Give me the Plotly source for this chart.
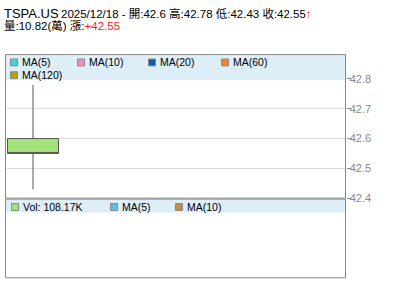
import plotly.graph_objects as go

W, H = 400, 301
symbol = "TSPA.US"
date = "2025/12/18"
opens = [42.6]
highs = [42.78]
lows = [42.43]
closes = [42.55]
volume_k = [108.17]
volume_wan = [10.82]
change = [42.55]
price_ticks = [42.4, 42.5, 42.6, 42.7, 42.8]
ma_labels = ["MA(5)", "MA(10)", "MA(20)", "MA(60)", "MA(120)"]
ma_colors = ["#44d4d0", "#f48cbc", "#0a5eb0", "#f28424", "#b4a404"]
vol_labels = ["Vol: %.2fK" % volume_k[0], "MA(5)", "MA(10)"]
vol_colors = ["#a4e47c", "#5cc0ec", "#c48c48"]

def px(x):
    return x / W

def py(y):
    return 1 - y / H

FONT = "Liberation Sans, Arial, Noto Sans CJK TC, sans-serif"

fig = go.Figure()
fig.add_trace(go.Candlestick(
    x=[0], open=opens, high=highs, low=lows, close=closes,
    increasing=dict(fillcolor="#f87878", line=dict(color="#555555", width=1)),
    decreasing=dict(fillcolor="#a4e47c", line=dict(color="#555555", width=1)),
    whiskerwidth=0, showlegend=False, hoverinfo="skip",
))

top, bot = 55.5, 202.5
ppu = 303.0
base_px = 201.5
ymax = 42.4 + (base_px - top) / ppu
ymin = 42.4 - (bot - base_px) / ppu

fig.update_layout(
    width=W, height=H, margin=dict(l=0, r=0, t=0, b=0),
    paper_bgcolor="white", plot_bgcolor="white",
    boxgap=0, boxgroupgap=0,
    xaxis=dict(domain=[px(5.5), px(345.5)], range=[-27.5 / 51, (340 - 27.5) / 51],
               showgrid=False, zeroline=False, showticklabels=False, ticks="",
               rangeslider=dict(visible=False), fixedrange=True),
    yaxis=dict(domain=[py(bot), py(top)], range=[ymin, ymax], side="right",
               tickvals=price_ticks, ticktext=[f"{v:.1f}" for v in price_ticks],
               showgrid=True, gridcolor="#dddddd", gridwidth=1, zeroline=False,
               ticks="outside", ticklen=4, tickcolor="#888888",
               tickfont=dict(family=FONT, size=11, color="#888888"),
               ticklabelstandoff=-3,
               showline=False, fixedrange=True),
    font=dict(family=FONT),
)

shapes = []
# legend bands
shapes.append(dict(type="rect", xref="paper", yref="paper", x0=px(6), x1=px(345), y0=py(81.5), y1=py(56),
                   fillcolor="#ddeef9", line=dict(width=0), layer="above"))
shapes.append(dict(type="rect", xref="paper", yref="paper", x0=px(6), x1=px(345), y0=py(216), y1=py(203),
                   fillcolor="#ddeef9", line=dict(width=0), layer="above"))
# panel borders
shapes.append(dict(type="rect", xref="paper", yref="paper", x0=px(5.5), x1=px(345.5), y0=py(201.5), y1=py(55.5),
                   line=dict(color="#888888", width=1), layer="above"))
shapes.append(dict(type="rect", xref="paper", yref="paper", x0=px(5.5), x1=px(345.5), y0=py(282.5), y1=py(202.5),
                   line=dict(color="#888888", width=1), layer="above"))

annotations = []
ma_pos = [(10, 63.5), (77, 63.5), (148, 63.5), (221, 63.5), (10, 76.5)]
for (x, y), lab, col in zip(ma_pos, ma_labels, ma_colors):
    shapes.append(dict(type="rect", xref="paper", yref="paper", x0=px(x + 0.5), x1=px(x + 7.5),
                       y0=py(y + 3.5), y1=py(y - 3.5), fillcolor=col,
                       line=dict(color="#888888", width=1), layer="above"))
    annotations.append(dict(x=px(x + 9.5), y=py(y), xref="paper", yref="paper", text=lab,
                            showarrow=False, xanchor="left", yanchor="middle",
                            font=dict(size=10.5, color="#000000", family=FONT)))
vol_pos = [(11, 210.5), (110, 210.5), (175, 210.5)]
for (x, y), lab, col in zip(vol_pos, vol_labels, vol_colors):
    shapes.append(dict(type="rect", xref="paper", yref="paper", x0=px(x + 0.5), x1=px(x + 7.5),
                       y0=py(y + 3.5), y1=py(y - 3.5), fillcolor=col,
                       line=dict(color="#888888", width=1), layer="above"))
    annotations.append(dict(x=px(x + 9.5), y=py(y), xref="paper", yref="paper", text=lab,
                            showarrow=False, xanchor="left", yanchor="middle",
                            font=dict(size=10.5, color="#000000", family=FONT)))

# header
annotations.append(dict(x=px(2), y=py(13.5), xref="paper", yref="paper", text=symbol,
                        showarrow=False, xanchor="left", yanchor="middle",
                        font=dict(size=13, color="#000000", family=FONT)))
line1 = (f"{date} - 開:{opens[0]:g} 高:{highs[0]:g} 低:{lows[0]:g} 收:{closes[0]:g}"
         "<span style='color:#ff2020'><b>↑</b></span>")
annotations.append(dict(x=px(59), y=py(13.5), xref="paper", yref="paper", text=line1,
                        showarrow=False, xanchor="left", yanchor="middle",
                        font=dict(size=11.5, color="#000000", family=FONT)))
line2 = f"量:{volume_wan[0]:.2f}(萬) 漲:<span style='color:#ff2020'>+{change[0]:.2f}</span>"
annotations.append(dict(x=px(2), y=py(26.5), xref="paper", yref="paper", text=line2,
                        showarrow=False, xanchor="left", yanchor="middle",
                        font=dict(size=11.5, color="#000000", family=FONT)))

fig.update_layout(shapes=shapes, annotations=annotations)
fig.write_html("out.html")
